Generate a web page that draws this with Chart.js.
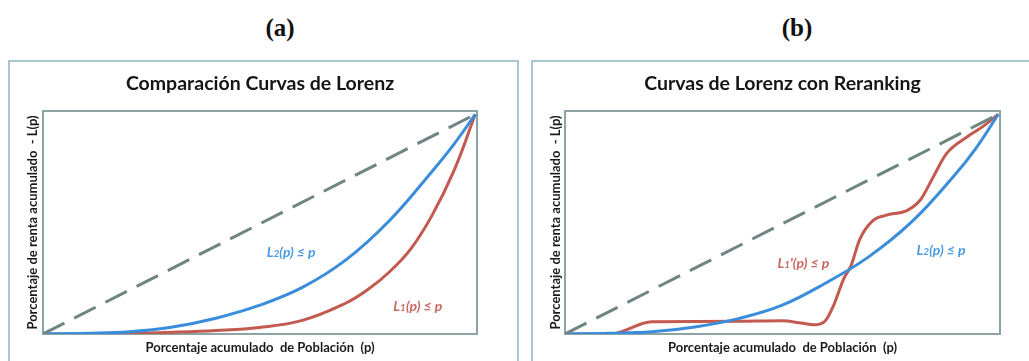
<!DOCTYPE html>
<html>
<head>
<meta charset="utf-8">
<script src="https://cdn.jsdelivr.net/npm/chart.js@4.4.0/dist/chart.umd.min.js"></script>
<style>
  html, body { margin: 0; padding: 0; background: #fff; }
  body { width: 1029px; height: 361px; position: relative; overflow: hidden; }
  .hd { position: absolute; top: 14px; line-height: 30px; font: bold 25px "Liberation Serif", "DejaVu Serif", serif;
        color: #111; transform: translateX(-50%); }
  .panel { position: absolute; top: 60px; height: 330px; border: 2px solid #A8C7D2; box-sizing: border-box; }
  canvas { position: absolute; }
</style>
</head>
<body>
<div class="hd" style="left:280px">(a)</div>
<div class="hd" style="left:797px">(b)</div>
<div class="panel" style="left:8px;width:511px"></div>
<div class="panel" style="left:531px;width:510px"></div>
<canvas id="chartA" width="510" height="301" style="left:8px;top:60px"></canvas>
<canvas id="chartB" width="497" height="301" style="left:532px;top:60px"></canvas>

<script>
// Line of perfect equality
const equalityP = [0, 1];
const equalityL = [0, 1];

// (a) Lorenz curves: L2 (blue) and L1 (red)
const popA_L2 = [0, 0.1, 0.2, 0.3, 0.4, 0.5, 0.6, 0.7, 0.8, 0.9, 0.95, 1];
const incA_L2 = [0, 0.003, 0.01, 0.032, 0.072, 0.13, 0.212, 0.336, 0.513, 0.74, 0.862, 1];
const popA_L1 = [0, 0.1, 0.2, 0.3, 0.4, 0.5, 0.6, 0.7, 0.75, 0.8, 0.85, 0.9, 0.95, 1];
const incA_L1 = [0, 0.001, 0.003, 0.008, 0.016, 0.03, 0.062, 0.14, 0.2, 0.28, 0.385, 0.54, 0.74, 1];

// (b) Lorenz curve L2 (blue) and re-ranked L1' (red)
const popB_L2 = [0, 0.1, 0.2, 0.3, 0.4, 0.5, 0.6, 0.7, 0.8, 0.9, 0.95, 1];
const incB_L2 = [0, 0.003, 0.01, 0.032, 0.07, 0.13, 0.23, 0.35, 0.51, 0.725, 0.85, 1];
const popB_L1r = [0, 0.105, 0.2, 0.3, 0.4, 0.5, 0.545, 0.575, 0.6, 0.62, 0.643, 0.66, 0.68, 0.71, 0.74, 0.79, 0.82, 0.85, 0.88, 0.93, 0.965, 1];
const incB_L1r = [0, 0, 0.056, 0.057, 0.058, 0.06, 0.05, 0.042, 0.058, 0.13, 0.25, 0.31, 0.43, 0.515, 0.54, 0.563, 0.61, 0.715, 0.82, 0.9, 0.945, 1];

// Text
const titleA = 'Comparación Curvas de Lorenz';
const titleB = 'Curvas de Lorenz con Reranking';
const xAxisTitle = 'Porcentaje acumulado  de Población  (p)';
const yAxisTitle = 'Porcentaje de renta acumulado  - L(p)';

const BLUE = '#3A8DDA';
const RED = '#C25A50';
const DASH = '#6F8582';
const BLUE_TXT = '#4A9BE3';
const RED_TXT = '#C9695F';
const FONT = 'Lato, "Open Sans", sans-serif';

const toXY = (xs, ys) => xs.map((x, i) => ({ x, y: ys[i] }));

// Frame around the plot area
const plotFrame = {
  id: 'plotFrame',
  beforeDatasetsDraw(chart) {
    const { ctx, chartArea: a } = chart;
    ctx.save();
    ctx.strokeStyle = '#8EA3A6';
    ctx.lineWidth = 2;
    ctx.strokeRect(a.left, a.top, a.right - a.left, a.bottom - a.top);
    ctx.restore();
  }
};

// In-plot curve labels of the form L<sub>(p) ≤ p, anchored in data units
const curveLabels = {
  id: 'curveLabels',
  afterDatasetsDraw(chart, args, opts) {
    const { ctx, scales } = chart;
    ctx.save();
    ctx.textBaseline = 'middle';
    (opts.items || []).forEach(it => {
      const px = scales.x.getPixelForValue(it.p);
      const py = scales.y.getPixelForValue(it.v);
      const big = 'italic bold 14px ' + FONT;
      const small = 'italic bold 10px ' + FONT;
      ctx.font = big;
      const w1 = ctx.measureText(it.main).width;
      const w3 = ctx.measureText(it.rest).width;
      ctx.font = small;
      const w2 = ctx.measureText(it.sub).width;
      let x = px - (w1 + w2 + w3) / 2;
      ctx.fillStyle = it.color;
      ctx.textAlign = 'left';
      ctx.font = big;
      ctx.fillText(it.main, x, py);
      x += w1;
      ctx.font = small;
      ctx.fillText(it.sub, x, py + 2);
      x += w2;
      ctx.font = big;
      ctx.fillText(it.rest, x, py);
    });
    ctx.restore();
  }
};

function lorenzChart(id, title, series, labels, geom) {
  const datasets = [
    { data: toXY(equalityP, equalityL), borderColor: DASH, borderWidth: 3, borderDash: [24, 11], tension: 0 },
    ...series.map(s => ({
      data: toXY(s.p, s.l), borderColor: s.color, borderWidth: 3,
      tension: 0.4, cubicInterpolationMode: s.monotone ? 'monotone' : 'default'
    }))
  ];
  return new Chart(document.getElementById(id), {
    type: 'line',
    data: { datasets },
    options: {
      responsive: false,
      animation: false,
      elements: { point: { radius: 0 }, line: { fill: false } },
      layout: { padding: { left: 12, right: geom.right, top: 0, bottom: 0 } },
      plugins: {
        legend: { display: false },
        tooltip: { enabled: false },
        title: {
          display: true, text: title, fullSize: false, color: '#151515',
          font: { family: FONT, size: 19.5, weight: 'bold' },
          padding: { top: 12.3, bottom: 15.3 }
        },
        curveLabels: { items: labels }
      },
      scales: {
        x: {
          type: 'linear', min: 0, max: 1.004,
          ticks: { display: false }, grid: { display: false }, border: { display: false },
          title: { display: true, text: xAxisTitle, color: '#1a1a1a',
                   font: { family: FONT, size: 13, weight: 'bold' }, padding: { top: 0, bottom: 5.2 } },
          afterFit(s) { s.height = 27; }
        },
        y: {
          type: 'linear', min: 0, max: 1.015,
          ticks: { display: false }, grid: { display: false }, border: { display: false },
          title: { display: true, text: yAxisTitle, color: '#1a1a1a',
                   font: { family: FONT, size: 13, weight: 'bold' }, padding: { top: geom.yTitlePad, bottom: 0 } },
          afterFit(s) { s.width = geom.yWidth; }
        }
      }
    },
    plugins: [plotFrame, curveLabels]
  });
}

lorenzChart('chartA', titleA, [
  { p: popA_L2, l: incA_L2, color: BLUE },
  { p: popA_L1, l: incA_L1, color: RED }
], [
  { main: 'L', sub: '2', rest: '(p) ≤ p', p: 0.574, v: 0.373, color: BLUE_TXT },
  { main: 'L', sub: '1', rest: '(p) ≤ p', p: 0.867, v: 0.127, color: RED_TXT }
], { right: 41, yWidth: 23, yTitlePad: 5.2 });

lorenzChart('chartB', titleB, [
  { p: popB_L2, l: incB_L2, color: BLUE },
  { p: popB_L1r, l: incB_L1r, color: RED, monotone: true }
], [
  { main: 'L', sub: '1', rest: '\'(p) ≤ p', p: 0.550, v: 0.323, color: RED_TXT },
  { main: 'L', sub: '2', rest: '(p) ≤ p', p: 0.868, v: 0.382, color: BLUE_TXT }
], { right: 29, yWidth: 21, yTitlePad: 4.2 });
</script>
</body>
</html>
